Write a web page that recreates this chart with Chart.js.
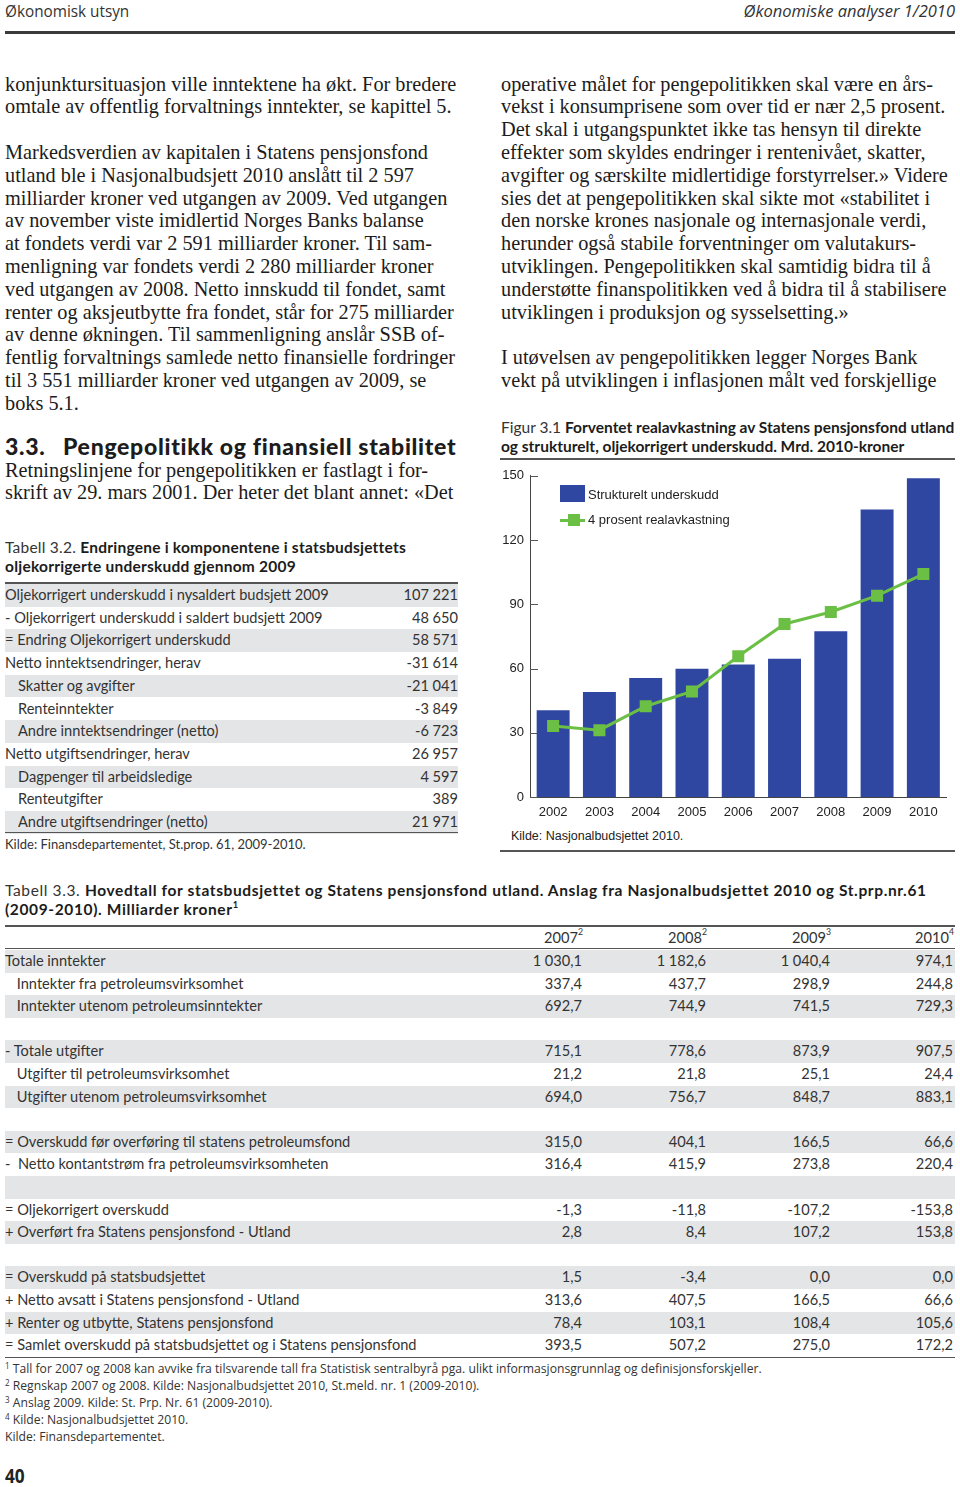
<!DOCTYPE html>
<html><head><meta charset="utf-8">
<script src="https://cdn.jsdelivr.net/npm/chart.js@4.4.1/dist/chart.umd.min.js"></script>
<style>
html,body{margin:0;padding:0;background:#fff;}
body{width:960px;height:1487px;position:relative;overflow:hidden;color:#1e1e1e;}
.abs{position:absolute;}
.serif{font-family:'Liberation Serif',serif;font-size:20.3px;line-height:22.8px;white-space:pre;color:#1c1c1c;}
.sans{font-family:'Lato','Open Sans',sans-serif;}
.cond{font-family:'Open Sans',sans-serif;transform-origin:0 0;white-space:pre;color:#333;}
.rule{position:absolute;background:#555;}
.cap{font-family:'Lato',sans-serif;font-size:15.5px;line-height:19px;white-space:pre;color:#1c1c1c;}
.cap b{font-weight:700;}
.cap .l{font-weight:400;color:#333;}
.row{position:absolute;height:22.7px;line-height:22.7px;font-family:'Lato',sans-serif;font-size:14.6px;color:#333;white-space:pre;}
.gray{background:#e4e5e7;}
.val{position:absolute;top:0;text-align:right;}
sup{font-size:60%;vertical-align:top;line-height:0;position:relative;top:5px;}
.fn{line-height:17px;}
.fn .s{font-size:9px;line-height:0;vertical-align:4px;}
</style></head>
<body>
<!-- Header -->
<div class="abs cond" style="left:5px;top:-1px;font-size:17px;line-height:24px;transform:scaleX(0.9);">Økonomisk utsyn</div>
<div class="abs cond" style="right:5px;top:-1px;font-size:17px;line-height:24px;font-style:italic;transform:scaleX(0.97);transform-origin:100% 0;">Økonomiske analyser 1/2010</div>
<div class="rule" style="left:5px;top:31px;width:950px;height:3px;background:#3a3a3a;"></div>

<!-- Left column text -->
<div class="abs serif" style="left:5px;top:72.6px;">konjunktursituasjon ville inntektene ha økt. For bredere
omtale av offentlig forvaltnings inntekter, se kapittel 5.

Markedsverdien av kapitalen i Statens pensjonsfond
utland ble i Nasjonalbudsjett 2010 anslått til 2 597
milliarder kroner ved utgangen av 2009. Ved utgangen
av november viste imidlertid Norges Banks balanse
at fondets verdi var 2 591 milliarder kroner. Til sam-
menligning var fondets verdi 2 280 milliarder kroner
ved utgangen av 2008. Netto innskudd til fondet, samt
renter og aksjeutbytte fra fondet, står for 275 milliarder
av denne økningen. Til sammenligning anslår SSB of-
fentlig forvaltnings samlede netto finansielle fordringer
til 3 551 milliarder kroner ved utgangen av 2009, se
boks 5.1.</div>
<div class="abs sans" style="left:5px;top:433px;font-size:23px;font-weight:900;line-height:27px;letter-spacing:0.7px;color:#1c1c1c;white-space:pre;">3.3.</div>
<div class="abs sans" style="left:63px;top:433px;font-size:23px;font-weight:900;line-height:27px;letter-spacing:0.7px;color:#1c1c1c;white-space:pre;">Pengepolitikk og finansiell stabilitet</div>
<div class="abs serif" style="left:5px;top:458.6px;">Retningslinjene for pengepolitikken er fastlagt i for-
skrift av 29. mars 2001. Der heter det blant annet: «Det</div>

<!-- Right column text -->
<div class="abs serif" style="left:501px;top:72.6px;">operative målet for pengepolitikken skal være en års-
vekst i konsumprisene som over tid er nær 2,5 prosent.
Det skal i utgangspunktet ikke tas hensyn til direkte
effekter som skyldes endringer i rentenivået, skatter,
avgifter og særskilte midlertidige forstyrrelser.» Videre
sies det at pengepolitikken skal sikte mot «stabilitet i
den norske krones nasjonale og internasjonale verdi,
herunder også stabile forventninger om valutakurs-
utviklingen. Pengepolitikken skal samtidig bidra til å
understøtte finanspolitikken ved å bidra til å stabilisere
utviklingen i produksjon og sysselsetting.»

I utøvelsen av pengepolitikken legger Norges Bank
vekt på utviklingen i inflasjonen målt ved forskjellige</div>

<!-- Figure 3.1 -->
<div class="abs cap" style="left:501px;top:417.5px;"><span class="l">Figur 3.1 </span><b>Forventet realavkastning av Statens pensjonsfond utland</b>
<b>og strukturelt, oljekorrigert underskudd. Mrd. 2010-kroner</b></div>
<div class="rule" style="left:500px;top:458px;width:455px;height:1.5px;"></div>
<div class="abs" style="left:495px;top:462px;width:460px;height:363px;"><canvas id="c" width="460" height="363"></canvas></div>
<div id="legend" class="abs" style="left:560px;top:485px;font-family:'Liberation Sans',Arial,sans-serif;font-size:13px;color:#222;"></div>
<div class="abs" style="left:511px;top:829px;font-family:'Liberation Sans',Arial,sans-serif;font-size:12.5px;color:#222;">Kilde: Nasjonalbudsjettet 2010.</div>
<div class="rule" style="left:500px;top:850px;width:455px;height:1.5px;"></div>

<!-- Tabell 3.2 -->
<div class="abs cap" style="left:5px;top:537.5px;letter-spacing:0.23px;"><span class="l">Tabell 3.2. </span><b>Endringene i komponentene i statsbudsjettets</b>
<b>oljekorrigerte underskudd gjennom 2009</b></div>
<div class="rule" style="left:5px;top:581.5px;width:453px;height:2px;"></div>
<div id="t32"></div>
<div class="rule" style="left:5px;top:831.5px;width:453px;height:1.5px;"></div>
<div class="abs sans" style="left:5px;top:836px;font-size:13px;color:#333;">Kilde: Finansdepartementet, St.prop. 61, 2009-2010.</div>

<!-- Tabell 3.3 -->
<div class="abs cap" style="left:5px;top:880.5px;letter-spacing:0.62px;"><span class="l">Tabell 3.3. </span><b>Hovedtall for statsbudsjettet og Statens pensjonsfond utland. Anslag fra Nasjonalbudsjettet 2010 og St.prp.nr.61</b>
<b>(2009-2010). Milliarder kroner<sup>1</sup></b></div>
<div class="rule" style="left:5px;top:925px;width:950px;height:2px;"></div>
<div id="t33h"></div>
<div class="rule" style="left:5px;top:947.5px;width:950px;height:1.5px;"></div>
<div id="t33"></div>
<div class="rule" style="left:5px;top:1356.5px;width:950px;height:1.5px;"></div>

<!-- Footnotes -->
<div class="abs cond fn" style="left:5px;top:1360px;font-size:13.5px;transform:scaleX(0.9);color:#333;"><span class="s">1</span> Tall for 2007 og 2008 kan avvike fra tilsvarende tall fra Statistisk sentralbyrå pga. ulikt informasjonsgrunnlag og definisjonsforskjeller.
<span class="s">2</span> Regnskap 2007 og 2008. Kilde: Nasjonalbudsjettet 2010, St.meld. nr. 1 (2009-2010).
<span class="s">3</span> Anslag 2009. Kilde: St. Prp. Nr. 61 (2009-2010).
<span class="s">4</span> Kilde: Nasjonalbudsjettet 2010.
Kilde: Finansdepartementet.</div>
<div class="abs cond" style="left:5px;top:1466px;font-size:20px;line-height:20px;font-weight:700;transform:scaleX(0.86);color:#222;">40</div>

<script>
// ---- Chart data ----
const years = ['2002','2003','2004','2005','2006','2007','2008','2009','2010'];
const strukturelt = [40.5, 49.0, 55.6, 59.9, 61.9, 64.6, 77.4, 134.3, 148.8];
const realavkastning = [33.2, 31.2, 42.4, 49.3, 65.7, 80.8, 86.4, 94.0, 104.1];
const yTicks = [0, 30, 60, 90, 120, 150];
const seriesNames = ['Strukturelt underskudd', '4 prosent realavkastning'];

// ---- Table 3.2 data ----
const t32Labels = ['Oljekorrigert underskudd i nysaldert budsjett 2009','- Oljekorrigert underskudd i saldert budsjett 2009','= Endring Oljekorrigert underskudd','Netto inntektsendringer, herav','Skatter og avgifter','Renteinntekter','Andre inntektsendringer (netto)','Netto utgiftsendringer, herav','Dagpenger til arbeidsledige','Renteutgifter','Andre utgiftsendringer (netto)'];
const t32Indent = [0,0,0,0,1,1,1,0,1,1,1];
const t32Values = ['107 221','48 650','58 571','-31 614','-21 041','-3 849','-6 723','26 957','4 597','389','21 971'];

// ---- Table 3.3 data ----
const t33Years = ['2007','2008','2009','2010'];
const t33YearNotes = ['2','2','3','4'];
const t33Labels = ['Totale inntekter',' Inntekter fra petroleumsvirksomhet',' Inntekter utenom petroleumsinntekter','','- Totale utgifter',' Utgifter til petroleumsvirksomhet',' Utgifter utenom petroleumsvirksomhet','','= Overskudd før overføring til statens petroleumsfond','-  Netto kontantstrøm fra petroleumsvirksomheten','','= Oljekorrigert overskudd','+ Overført fra Statens pensjonsfond - Utland','','= Overskudd på statsbudsjettet','+ Netto avsatt i Statens pensjonsfond - Utland','+ Renter og utbytte, Statens pensjonsfond','= Samlet overskudd på statsbudsjettet og i Statens pensjonsfond'];
const t33Indent = [0,1,1,0,0,1,1,0,0,0,0,0,0,0,0,0,0,0];
const t33Col2007 = ['1 030,1','337,4','692,7','','715,1','21,2','694,0','','315,0','316,4','','-1,3','2,8','','1,5','313,6','78,4','393,5'];
const t33Col2008 = ['1 182,6','437,7','744,9','','778,6','21,8','756,7','','404,1','415,9','','-11,8','8,4','','-3,4','407,5','103,1','507,2'];
const t33Col2009 = ['1 040,4','298,9','741,5','','873,9','25,1','848,7','','166,5','273,8','','-107,2','107,2','','0,0','166,5','108,4','275,0'];
const t33Col2010 = ['974,1','244,8','729,3','','907,5','24,4','883,1','','66,6','220,4','','-153,8','153,8','','0,0','66,6','105,6','172,2'];

// build table 3.2
(function(){
  const host = document.getElementById('t32');
  let h = '';
  t32Labels.forEach((lab, i) => {
    const top = 584 + i * 22.7;
    h += `<div class="row ${i%2===0?'gray':''}" style="left:5px;width:453px;top:${top}px;">` +
         `<span style="position:absolute;left:${t32Indent[i]?13:0}px;">${lab}</span>` +
         `<span class="val" style="right:0;">${t32Values[i]}</span></div>`;
  });
  host.innerHTML = h;
})();

// build table 3.3
(function(){
  const rights = [373, 249, 125, 2];
  const cols = [t33Col2007, t33Col2008, t33Col2009, t33Col2010];
  let hh = `<div class="row" style="left:5px;width:950px;top:927px;">`;
  t33Years.forEach((y, j) => {
    hh += `<span class="val" style="right:${rights[j]-1}px;">${y}<sup>${t33YearNotes[j]}</sup></span>`;
  });
  hh += '</div>';
  document.getElementById('t33h').innerHTML = hh;
  let h = '';
  t33Labels.forEach((lab, i) => {
    const top = 950 + i * 22.6;
    h += `<div class="row ${i%2===0?'gray':''}" style="left:5px;width:950px;top:${top}px;">` +
         `<span style="position:absolute;left:${t33Indent[i]?8:0}px;">${lab}</span>`;
    cols.forEach((c, j) => {
      h += `<span class="val" style="right:${rights[j]}px;">${c[i]}</span>`;
    });
    h += '</div>';
  });
  document.getElementById('t33').innerHTML = h;
})();

// ---- Chart ----
const barColor = '#2f47a0';
const lineColor = '#6cbf45';

const innerTicks = {
  id: 'innerTicks',
  beforeDatasetsDraw(chart) {
    const y = chart.scales.y, x = chart.scales.x, ctx = chart.ctx;
    ctx.save();
    ctx.strokeStyle = '#555';
    ctx.lineWidth = 1;
    y.ticks.forEach(t => {
      const py = Math.round(y.getPixelForValue(t.value)) + 0.5;
      ctx.beginPath();
      ctx.moveTo(x.left, py);
      ctx.lineTo(x.left + 8, py);
      ctx.stroke();
    });
    ctx.restore();
  }
};

const chart = new Chart(document.getElementById('c'), {
  type: 'bar',
  data: {
    labels: years,
    datasets: [
      {
        type: 'line',
        label: seriesNames[1],
        data: realavkastning,
        borderColor: lineColor,
        backgroundColor: lineColor,
        borderWidth: 3,
        pointStyle: 'rect',
        pointRadius: 8.5,
        pointHoverRadius: 8.5,
        pointBackgroundColor: lineColor,
        pointBorderWidth: 0,
        tension: 0,
        order: 0
      },
      {
        type: 'bar',
        label: seriesNames[0],
        data: strukturelt,
        backgroundColor: barColor,
        borderWidth: 0,
        barPercentage: 0.8,
        categoryPercentage: 0.89,
        order: 1
      }
    ]
  },
  options: {
    responsive: false,
    animation: false,
    events: [],
    layout: { padding: { top: 8, right: 5, left: 0, bottom: 0 } },
    plugins: { legend: { display: false }, tooltip: { enabled: false } },
    scales: {
      x: {
        grid: { display: false, drawTicks: false },
        border: { display: true, color: '#444', width: 1 },
        ticks: { color: '#222', font: { family: "'Liberation Sans', Arial, sans-serif", size: 13 }, padding: 8, maxRotation: 0 },
        afterFit(s) { s.height = 28; }
      },
      y: {
        min: 0, max: 150,
        afterBuildTicks(s) { s.ticks = yTicks.map(v => ({ value: v })); },
        grid: { display: false, drawTicks: false },
        border: { display: true, color: '#444', width: 1 },
        ticks: { color: '#222', font: { family: "'Liberation Sans', Arial, sans-serif", size: 13 }, padding: 6 },
        afterFit(s) { s.width = 35; }
      }
    }
  },
  plugins: [innerTicks]
});

// ---- HTML legend from dataset labels ----
(function(){
  const lg = document.getElementById('legend');
  lg.innerHTML =
    `<div style="position:relative;height:24px;">
       <span style="position:absolute;left:0;top:0;width:25px;height:17px;background:${barColor};"></span>
       <span style="position:absolute;left:28px;top:2px;white-space:nowrap;">${seriesNames[0]}</span></div>
     <div style="position:relative;height:24px;">
       <span style="position:absolute;left:0;top:10px;width:25px;height:3px;background:${lineColor};"></span>
       <span style="position:absolute;left:8px;top:5px;width:12px;height:12px;background:${lineColor};"></span>
       <span style="position:absolute;left:28px;top:3px;white-space:nowrap;">${seriesNames[1]}</span></div>`;
})();
</script>
</body></html>
